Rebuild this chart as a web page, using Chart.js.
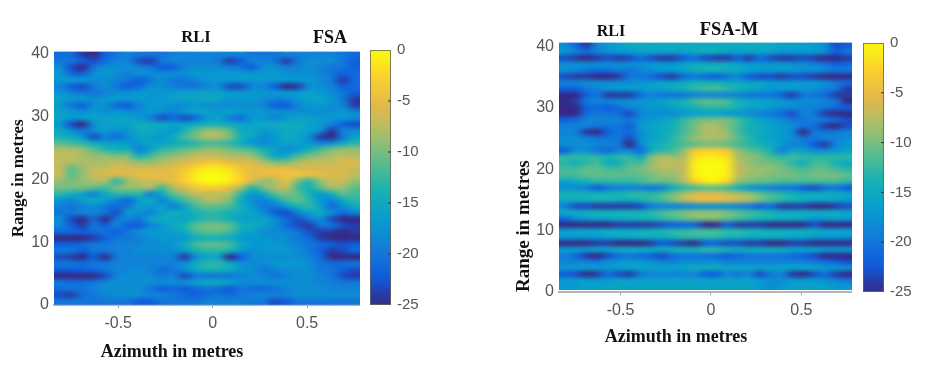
<!DOCTYPE html>
<html>
<head>
<meta charset="utf-8">
<title>RLI FSA / FSA-M</title>
<script src="https://cdn.jsdelivr.net/npm/chart.js@4"></script>
<style>
    html, body { margin: 0; background: #fff; width: 944px; height: 390px; overflow: hidden; }
    canvas { position: absolute; }
    .note { position: absolute; transform: translate(-50%, -50%); white-space: nowrap; color: #111;
            font: bold 16px "Liberation Serif", serif; }
</style>
</head>
<body>
<canvas id="leftHeat" style="left:0;top:37px"></canvas>
<canvas id="leftBar" style="left:370px;top:35px"></canvas>
<canvas id="rightHeat" style="left:505px;top:28px"></canvas>
<canvas id="rightBar" style="left:863px;top:28px"></canvas>
<div class="note" style="left:196px;top:37px;font-size:16.5px">RLI</div>
<div class="note" style="left:330px;top:37px;font-size:18px">FSA</div>
<div class="note" style="left:172px;top:351px;font-size:18px">Azimuth in metres</div>
<div class="note" style="left:611px;top:31px">RLI</div>
<div class="note" style="left:729px;top:29px;font-size:18.5px">FSA-M</div>
<div class="note" style="left:676px;top:336px;font-size:18px">Azimuth in metres</div>
<script>
// azimuth of each heatmap column, metres
const azimuths = [-0.81,-0.75,-0.69,-0.63,-0.57,-0.51,-0.45,-0.39,-0.33,-0.27,-0.21,-0.15,-0.09,-0.03,0.03,0.09,0.15,0.21,0.27,0.33,0.39,0.45,0.51,0.57,0.63,0.69,0.75];
const azimuthTicks = [-0.5, 0, 0.5];
const rangeTicks = [0, 10, 20, 30, 40];
const dbTicks = [-25, -20, -15, -10, -5, 0];
const colorbarLevels = [-25,-24,-23,-22,-21,-20,-19,-18,-17,-16,-15,-14,-13,-12,-11,-10,-9,-8,-7,-6,-5,-4,-3,-2,-1];

// dB below peak, rows run from range 40 (top) down to range 0
const fsaRows = [
[21,21,24,25,22,20,19,20,20,20,19,19,19,19,19,19,19,20,20,20,19,19,19,19,19,20,21],
[20,20,22,23,21,19,19,23,24,20,19,19,19,19,20,24,22,19,19,20,24,20,18,18,18,20,22],
[18,23,25,20,18,18,18,19,20,22,22,19,18,18,18,19,20,22,18,18,19,19,18,19,20,20,22],
[17,21,22,18,17,18,19,18,18,18,18,18,17,17,17,17,17,17,17,17,18,18,18,19,20,22,21],
[17,17,17,18,18,19,20,22,20,18,20,20,19,17,17,17,17,17,17,17,17,17,17,18,20,24,21],
[19,22,23,20,18,20,22,21,18,18,19,20,20,19,18,23,23,19,19,22,25,24,18,18,19,22,21],
[17,19,20,20,19,18,18,17,17,17,17,16,16,16,16,17,17,17,17,17,17,17,16,17,18,20,22],
[16,17,17,18,17,17,17,17,17,17,16,16,16,15,16,17,17,17,18,19,19,17,16,16,17,20,24],
[17,20,22,18,18,21,22,19,17,17,18,18,17,18,18,18,18,18,19,22,22,19,17,17,18,19,24],
[16,17,18,17,18,17,18,18,17,18,19,17,16,16,17,16,17,17,17,18,18,18,18,18,18,17,19],
[16,17,17,16,16,16,16,17,19,23,21,23,21,17,16,19,21,17,17,19,17,16,16,17,17,17,18],
[17,23,25,18,16,16,16,15,15,15,16,16,15,14,14,15,16,16,15,15,15,15,16,17,19,22,23],
[15,18,20,18,16,18,17,15,15,16,17,14,11,9,9,11,15,15,17,16,15,15,16,18,24,19,18],
[14,15,17,23,19,21,18,16,16,17,15,12,10,8,8,10,14,16,18,17,15,16,18,24,25,20,16],
[11,12,13,15,16,16,17,17,16,16,15,14,13,12,12,13,15,17,18,17,16,16,17,19,18,15,13],
[8,8,9,11,13,14,14,19,16,13,12,11,10,9,9,10,11,12,14,16,18,17,14,12,10,9,9],
[7,7,8,9,9,10,10,14,12,10,9,8,7,7,7,8,8,9,12,16,15,12,10,9,8,7,8],
[7,8,8,8,8,7,8,9,9,8,7,6,5,4,4,5,6,6,8,10,10,8,7,7,7,6,6],
[7,11,9,7,7,6,6,6,6,6,5,4,2,1,1,2,4,5,5,5,5,6,6,6,6,6,7],
[7,11,9,7,6,6,6,5,5,5,5,3,1,0,0,1,3,5,5,5,4,4,5,5,6,6,7],
[9,10,9,8,8,13,9,7,7,6,5,3,1,0,0,1,3,6,9,8,5,10,13,9,7,7,9],
[10,10,10,11,12,10,9,9,8,12,8,6,4,3,3,5,8,13,10,8,7,12,14,11,8,9,11],
[13,14,16,19,15,13,13,13,19,15,11,9,7,7,7,8,13,17,15,11,10,11,14,17,14,11,12],
[17,19,16,15,16,19,21,17,15,19,15,12,10,8,8,10,15,18,19,16,12,11,13,17,19,15,13],
[19,20,19,18,20,21,20,16,17,16,19,16,12,11,11,12,14,17,20,20,17,14,13,16,21,18,15],
[20,20,19,19,20,23,17,18,19,16,15,15,14,13,13,14,15,16,18,22,23,19,16,15,18,21,19],
[18,23,25,21,25,20,19,20,16,15,15,16,14,13,13,14,16,16,16,18,21,23,20,18,23,25,25],
[19,22,24,20,22,19,22,22,19,17,15,14,11,10,10,11,14,15,16,18,21,23,24,20,20,23,24],
[21,21,22,21,20,22,20,18,17,17,16,15,12,11,11,12,15,16,18,18,19,20,23,24,24,25,24],
[25,25,25,24,22,20,20,19,18,17,17,17,15,14,14,15,17,17,17,18,18,20,21,24,25,25,25],
[22,22,21,20,20,19,19,19,18,18,17,15,12,11,11,12,15,17,17,17,18,19,20,21,22,23,22],
[20,20,22,20,20,19,19,18,18,18,18,17,14,13,13,14,17,18,17,17,17,18,20,22,24,23,21],
[23,24,25,22,25,20,19,19,19,19,19,24,18,16,16,25,22,18,18,18,18,18,19,21,25,25,25],
[20,20,21,20,20,19,19,19,19,19,19,18,15,13,13,15,18,18,18,17,17,17,18,20,21,21,20],
[22,22,22,21,20,19,19,18,19,21,20,18,15,14,14,15,17,18,20,19,18,18,18,20,20,22,23],
[25,25,25,25,23,19,18,18,18,20,19,23,20,20,20,20,19,18,19,20,19,18,18,19,20,23,24],
[20,21,21,20,19,18,18,18,18,18,18,18,16,15,15,16,18,18,18,18,18,18,18,19,19,20,20],
[21,20,20,19,18,18,18,18,20,22,21,22,21,20,21,22,20,21,21,20,19,18,18,18,19,19,19],
[23,24,21,20,19,18,18,18,19,19,20,21,22,21,20,21,20,19,19,19,19,18,18,18,18,18,18],
[20,20,20,20,20,20,20,22,22,20,20,20,20,19,19,19,19,20,20,23,22,20,20,20,20,20,20]
];

const fsaMRows = [
[18,21,24,19,17,16,15,15,15,15,15,15,15,15,15,15,15,15,15,15,16,16,16,17,18,23,22],
[17,19,21,19,18,17,17,16,16,16,16,16,15,15,15,16,16,16,16,16,17,17,17,17,18,22,20],
[23,24,25,24,23,24,23,21,23,24,24,22,21,23,24,24,22,24,21,23,24,24,23,24,25,25,24],
[18,18,18,18,18,18,18,18,17,17,17,16,15,15,15,15,16,17,17,17,17,18,18,19,20,22,21],
[18,19,20,21,21,20,20,19,18,17,17,16,15,14,14,15,15,16,17,17,17,17,18,18,19,20,20],
[23,24,24,25,25,24,20,20,21,23,24,21,20,21,22,20,19,22,23,23,24,23,23,24,25,25,25],
[19,19,18,18,18,18,18,17,17,16,16,15,14,14,14,15,15,16,16,17,17,17,17,17,18,20,21],
[22,22,20,19,18,17,17,17,16,16,15,14,13,12,12,13,14,15,16,17,17,17,17,18,19,20,24],
[25,25,22,20,24,24,24,21,19,20,20,20,19,19,19,19,19,20,20,20,22,24,20,20,21,24,24],
[25,24,20,19,19,18,18,17,17,16,15,14,12,11,11,12,14,15,16,16,17,18,18,18,19,20,25],
[25,25,22,21,22,21,19,18,17,17,16,15,14,13,13,13,14,16,16,17,18,18,19,19,20,21,22],
[25,25,21,20,20,21,23,19,18,18,18,17,16,16,16,17,17,18,19,20,21,23,19,20,24,25,25],
[22,21,19,19,19,19,20,18,17,16,15,13,11,10,10,10,12,14,16,17,18,20,20,19,20,21,23],
[19,19,19,20,20,20,22,17,16,15,14,12,10,8,8,10,12,14,15,16,17,18,20,21,24,25,23],
[19,19,24,25,22,20,21,18,16,15,14,12,10,8,8,9,12,14,15,16,17,19,25,20,20,20,19],
[18,18,19,20,20,20,23,18,16,15,13,11,9,8,8,9,11,13,15,16,17,18,20,20,19,19,18],
[18,18,18,19,19,20,25,19,15,14,13,12,11,10,10,11,12,13,14,15,17,19,19,22,24,19,17],
[22,18,18,20,21,19,19,21,15,13,12,9,4,3,3,4,9,11,12,14,19,16,16,18,18,17,16],
[13,13,13,13,14,13,13,15,10,8,9,8,2,1,1,2,8,9,10,12,13,12,13,13,13,13,13],
[13,14,13,12,15,14,12,12,9,7,7,7,1,0,0,1,7,9,10,10,11,13,14,12,12,14,15],
[12,12,11,11,12,12,11,10,9,8,8,7,1,0,0,1,7,8,9,9,10,11,12,11,11,12,13],
[12,12,11,11,11,11,11,11,10,9,9,7,1,0,0,1,7,9,9,10,10,10,11,10,10,10,11],
[16,15,14,13,13,13,13,12,11,11,10,8,3,1,1,3,9,10,11,11,12,12,12,12,12,12,13],
[18,18,19,22,20,19,19,19,20,19,15,13,12,11,11,12,14,17,18,19,20,20,22,23,21,20,22],
[14,14,14,14,14,14,13,13,13,12,10,8,6,6,6,7,8,9,11,12,13,14,15,15,15,15,16],
[15,15,15,14,14,15,15,14,13,12,10,8,6,5,5,6,7,8,10,12,13,14,15,16,16,16,17],
[19,23,23,24,24,24,24,23,20,19,19,19,18,18,18,18,19,20,22,21,24,24,24,25,25,24,23],
[15,15,15,14,14,14,14,14,13,12,11,10,9,9,9,10,11,12,13,14,15,15,15,15,15,15,16],
[21,18,17,16,16,15,15,14,14,13,12,11,10,10,10,11,12,13,14,14,15,15,16,17,17,16,17],
[25,25,25,25,25,24,24,24,24,23,22,22,22,25,25,22,24,24,24,25,25,25,25,23,25,25,25],
[17,16,16,16,15,15,15,15,14,14,13,13,12,12,12,13,13,14,14,15,15,15,15,15,16,16,16],
[17,17,17,17,16,16,16,15,15,15,14,13,13,13,13,14,14,15,15,15,15,16,16,17,17,17,18],
[25,25,25,24,24,25,25,25,24,22,23,24,25,22,22,23,23,24,24,25,25,24,24,25,25,25,25],
[17,17,17,16,16,15,15,15,15,15,14,14,14,13,13,14,15,15,15,15,15,16,16,16,17,17,17],
[19,21,24,25,23,21,20,21,22,23,21,20,20,20,21,22,21,20,20,20,20,21,22,23,25,25,25],
[19,19,19,20,18,17,17,17,18,19,19,18,18,18,18,19,19,19,19,19,19,19,19,20,21,22,23],
[17,17,17,17,17,17,16,16,16,16,16,16,15,15,15,16,16,16,16,16,16,16,16,16,17,17,18],
[22,23,25,24,21,23,24,20,19,19,19,19,19,22,22,19,20,19,23,20,19,24,25,23,21,24,25],
[17,17,17,17,17,16,16,16,16,16,16,16,16,16,16,16,16,16,17,18,18,17,17,17,18,19,20],
[17,17,16,16,16,16,16,16,16,16,16,16,16,16,16,16,16,16,17,18,17,16,16,16,16,17,17]
];

const parulaStops = [[53,42,135],[15,92,221],[18,125,216],[7,156,207],[21,177,180],[89,189,140],[165,190,107],[225,185,74],[252,206,46],[249,251,14]];
const tickFont = { family: "'Liberation Sans', sans-serif", size: 16 };

function parula(db) {
    const t = Math.min(1, Math.max(0, (db + 25) / 25)) * (parulaStops.length - 1);
    const i = Math.min(parulaStops.length - 2, Math.floor(t));
    const c = parulaStops[i].map((v, k) => Math.round(v + (parulaStops[i + 1][k] - v) * (t - i)));
    return `rgb(${c[0]},${c[1]},${c[2]})`;
}

// cells are drawn by the bar controller, this only softens the blocks they leave
function smoothPlugin(cols, rows, top, floor) {
    return {
        id: "smooth",
        afterDatasetsDraw(chart) {
            const a = chart.chartArea;
            const y0 = chart.scales.y.getPixelForValue(top);
            const y1 = chart.scales.y.getPixelForValue(floor);
            const small = document.createElement("canvas");
            small.width = cols;
            small.height = rows;
            const sctx = small.getContext("2d");
            sctx.imageSmoothingEnabled = false;
            sctx.drawImage(chart.canvas, a.left, y0, a.width, y1 - y0, 0, 0, cols, rows);
            const ctx = chart.ctx;
            ctx.save();
            ctx.imageSmoothingEnabled = true;
            ctx.imageSmoothingQuality = "high";
            ctx.drawImage(small, a.left, y0, a.width, y1 - y0);
            ctx.restore();
        }
    };
}

function heatChart(id, rows, opt) {
    const step = (opt.top - opt.floor) / rows.length;
    const cells = [];
    const colors = [];
    rows.forEach((row, r) => {
        const hi = opt.top - r * step;
        row.forEach((depth, c) => {
            cells.push({ x: azimuths[c], y: [hi - step, hi] });
            colors.push(parula(-depth));
        });
    });
    const el = document.getElementById(id);
    el.width = opt.width;
    el.height = opt.height;
    new Chart(el, {
        type: "bar",
        data: { datasets: [{ data: cells, backgroundColor: colors, borderWidth: 0, barPercentage: 1, categoryPercentage: 1 }] },
        options: {
            responsive: false,
            animation: false,
            layout: { padding: { top: 14, left: 0, right: 0, bottom: 0 } },
            plugins: { legend: { display: false }, tooltip: { enabled: false } },
            scales: {
                x: {
                    type: "linear",
                    offset: false,
                    min: -0.84,
                    max: 0.78,
                    afterBuildTicks: axis => { axis.ticks = azimuthTicks.map(v => ({ value: v })); },
                    afterFit: axis => { axis.height = 36; },
                    grid: { drawOnChartArea: false, tickLength: 3, color: "#999", offset: false },
                    border: { color: "#b4b4b4", width: 2 },
                    ticks: { color: "#555", font: tickFont, padding: 6, maxRotation: 0, callback: v => String(v) }
                },
                y: {
                    min: 0,
                    max: opt.top,
                    afterBuildTicks: axis => { axis.ticks = rangeTicks.map(v => ({ value: v })); },
                    afterFit: axis => { axis.width = 54; },
                    grid: { display: false, drawTicks: false },
                    border: { display: false },
                    ticks: { color: "#555", font: tickFont, padding: 5, callback: v => String(v) },
                    title: {
                        display: true,
                        text: "Range in metres",
                        align: opt.titleAlign,
                        color: "#111",
                        padding: { top: 8, bottom: 0 },
                        font: { family: "'Liberation Serif', serif", size: opt.titleSize, weight: "bold" }
                    }
                }
            }
        },
        plugins: [smoothPlugin(azimuths.length, rows.length, opt.top, opt.floor)]
    });
}

function colorbarChart(id, width, height) {
    const el = document.getElementById(id);
    el.width = width;
    el.height = height;
    new Chart(el, {
        type: "bar",
        data: {
            labels: ["dB"],
            datasets: [{
                data: colorbarLevels.map(v => ({ x: "dB", y: [v, v + 1] })),
                backgroundColor: colorbarLevels.map(v => parula(v + 0.5)),
                borderWidth: 0,
                barPercentage: 1,
                categoryPercentage: 1
            }]
        },
        options: {
            responsive: false,
            animation: false,
            layout: { padding: { top: 14, bottom: 14, left: 0, right: 0 } },
            plugins: { legend: { display: false }, tooltip: { enabled: false } },
            scales: {
                x: { display: false },
                y: {
                    position: "right",
                    min: -25,
                    max: 0,
                    afterBuildTicks: axis => { axis.ticks = dbTicks.map(v => ({ value: v })); },
                    afterFit: axis => { axis.width = width - 21; },
                    grid: { display: false, drawTicks: false },
                    border: { display: false },
                    ticks: { color: "#555", font: { family: tickFont.family, size: 15 }, padding: 6, callback: v => String(v) }
                }
            }
        },
        plugins: [smoothPlugin(1, colorbarLevels.length, 0, -25), {
            id: "frame",
            afterDraw(chart) {
                const a = chart.chartArea;
                const ctx = chart.ctx;
                ctx.save();
                ctx.strokeStyle = "rgba(100,100,90,0.8)";
                ctx.strokeRect(a.left + 0.5, a.top + 0.5, a.width - 1, a.height - 1);
                ctx.strokeStyle = "#333";
                dbTicks.slice(1, 5).forEach(v => {
                    const y = chart.scales.y.getPixelForValue(v);
                    ctx.beginPath();
                    ctx.moveTo(a.right - 3, y);
                    ctx.lineTo(a.right, y);
                    ctx.stroke();
                });
                ctx.restore();
            }
        }]
    });
}

heatChart("leftHeat", fsaRows, { width: 360, height: 304, top: 40.3, floor: 0.1, titleAlign: "center", titleSize: 17 });
heatChart("rightHeat", fsaMRows, { width: 347, height: 300, top: 40.6, floor: 0.4, titleAlign: "start", titleSize: 19 });
colorbarChart("leftBar", 60, 285);
colorbarChart("rightBar", 60, 279);
</script>
</body>
</html>
